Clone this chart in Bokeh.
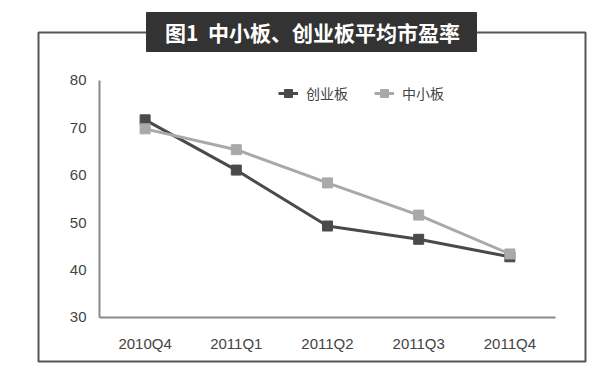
from bokeh.plotting import figure
from bokeh.models import Range1d, BoxAnnotation, Label, Legend, LegendItem, FixedTicker
from bokeh.embed import file_html
from bokeh.resources import INLINE

quarters = ["2010Q4", "2011Q1", "2011Q2", "2011Q3", "2011Q4"]
chuangye = [71.7, 61.1, 49.3, 46.5, 42.8]
zhongxiao = [69.8, 65.4, 58.4, 51.6, 43.4]
title_text = "图1\u00a0\u00a0中小板、创业板平均市盈率"
series_names = ["创业板", "中小板"]
y_ticks = [30, 40, 50, 60, 70, 80]

# category positions (centre of each category slot)
xpos = [i + 0.5 for i in range(len(quarters))]

p = figure(width=600, height=370, x_range=Range1d(-0.757, 5.439),
           y_range=Range1d(19.45, 95.61), output_backend="svg", toolbar_location=None,
           min_border_left=30, min_border_right=5, min_border_top=6, min_border_bottom=3)
p.outline_line_color = None
p.xgrid.grid_line_color = None
p.ygrid.grid_line_color = None
p.background_fill_color = "white"
p.border_fill_color = "white"

for ax in (p.xaxis[0], p.yaxis[0]):
    ax.axis_line_color = "#8a8a8a"
    ax.axis_line_width = 2
    ax.major_tick_line_color = None
    ax.minor_tick_line_color = None
    ax.major_label_text_font = "Liberation Sans"
    ax.major_label_text_font_size = "15px"
    ax.major_label_text_color = "#444444"
p.yaxis[0].ticker = FixedTicker(ticks=y_ticks)
p.yaxis[0].major_label_standoff = 7
p.yaxis[0].fixed_location = 0
p.yaxis[0].bounds = (y_ticks[0], y_ticks[-1])
p.xaxis[0].ticker = FixedTicker(ticks=xpos)
p.xaxis[0].major_label_overrides = {x: q for x, q in zip(xpos, quarters)}
p.xaxis[0].major_label_standoff = 12
p.xaxis[0].fixed_location = y_ticks[0]
p.xaxis[0].bounds = (0, len(quarters))

l1 = p.line(xpos, chuangye, line_color="#4a4a4a", line_width=3)
m1 = p.scatter(xpos, chuangye, marker="square", size=10, fill_color="#4a4a4a", line_color="#4a4a4a")
l2 = p.line(xpos, zhongxiao, line_color="#a9a9a9", line_width=3)
m2 = p.scatter(xpos, zhongxiao, marker="square", size=10, fill_color="#a9a9a9", line_color="#a9a9a9")

legend = Legend(items=[LegendItem(label=series_names[0], renderers=[l1, m1]),
                       LegendItem(label=series_names[1], renderers=[l2, m2])],
                orientation="horizontal", location=(248, 264), padding=0, margin=0,
                spacing=26, label_standoff=8, glyph_width=20, glyph_height=20,
                label_text_font="Noto Sans CJK SC", label_text_font_size="14px",
                label_text_color="#444444", border_line_color=None,
                background_fill_alpha=0)
p.add_layout(legend, "center")

frame = BoxAnnotation(left=38, right=585, top=32, bottom=361,
                      left_units="canvas", right_units="canvas", top_units="canvas", bottom_units="canvas",
                      fill_alpha=0, line_color="#555555", line_alpha=1, line_width=2, level="overlay")
p.add_layout(frame)
tbox = BoxAnnotation(left=146, right=476, top=12, bottom=51,
                     left_units="canvas", right_units="canvas", top_units="canvas", bottom_units="canvas",
                     fill_color="#333333", fill_alpha=1, line_color="#333333", line_alpha=1,
                     line_width=1, level="overlay")
p.add_layout(tbox)
t = Label(x=312, y=31, x_units="canvas", y_units="canvas", text=title_text,
          text_align="center", text_baseline="middle", text_color="white",
          text_font="Noto Sans CJK SC", text_font_size="21px", text_font_style="bold", level="overlay")
p.add_layout(t)

open("out.html", "w").write(file_html(p, INLINE))
